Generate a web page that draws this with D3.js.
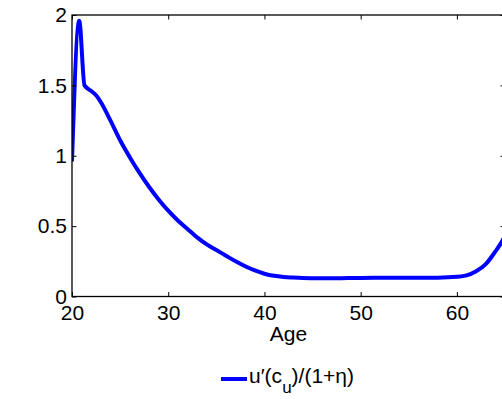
<!DOCTYPE html>
<html>
<head>
<meta charset="utf-8">
<script src="https://cdn.jsdelivr.net/npm/d3@7"></script>
<style>
  body { margin: 0; background: #fff; }
  svg { display: block; font-family: "Liberation Sans", Arial, sans-serif; }
</style>
</head>
<body>
<div id="chart"></div>
<script>
// values
let ages = [20, 20.75, 21.3, 22, 22.5, 23, 24, 25, 26, 27, 28, 29, 30, 31, 32, 33, 34, 35, 36, 37, 38, 39, 40,
  41, 42, 43, 44, 45, 46, 47, 48, 50, 52, 55, 58, 60, 61, 62, 63, 64, 64.5, 65];
let values = [0.96, 1.96, 1.50, 1.46, 1.43, 1.38, 1.25, 1.11, 0.99, 0.88, 0.78, 0.69, 0.61, 0.54, 0.48, 0.42, 0.37, 0.33, 0.29, 0.25, 0.215, 0.185, 0.162,
  0.147, 0.139, 0.135, 0.132, 0.130, 0.129, 0.129, 0.130, 0.132, 0.133, 0.133, 0.134, 0.140, 0.150, 0.180, 0.23, 0.32, 0.37, 0.43];
let xTicks = [20, 30, 40, 50, 60];
let yTicks = [0, 0.5, 1, 1.5, 2];

var W = 502, H = 399;
var m = {left: 72, top: 15, right: 505, bottom: 296.5};
var fs = 21;

let svg = d3.select('#chart').append('svg').attr('width', W).attr('height', H);

let x = d3.scaleLinear().domain([20, 65]).range([m.left, m.right]);
let y = d3.scaleLinear().domain([0, 2]).range([m.bottom, m.top]);

svg.append('clipPath').attr('id', 'clip')
  .append('rect').attr('x', m.left).attr('y', m.top)
  .attr('width', m.right - m.left).attr('height', m.bottom - m.top);

// curve
let line = d3.line().x((d, i) => x(ages[i])).y(d => y(d)).curve(d3.curveMonotoneX);
svg.append('path').datum(values)
  .attr('clip-path', 'url(#clip)')
  .attr('d', line)
  .attr('fill', 'none').attr('stroke', '#0000ff').attr('stroke-width', 4)
  .attr('stroke-linejoin', 'round');

function styleAxis(g) {
  g.select('.domain').remove();
  g.selectAll('.tick line').attr('stroke', '#000').attr('stroke-width', 1);
  g.selectAll('.tick text').attr('fill', '#000').attr('font-size', fs)
    .attr('font-family', '"Liberation Sans", Arial, sans-serif');
}

let fmt = d => d3.format('~g')(d);

svg.append('g').attr('transform', `translate(0,${m.bottom})`)
  .call(d3.axisBottom(x).tickValues(xTicks).tickFormat(fmt).tickSizeInner(-4.5).tickSizeOuter(0).tickPadding(9))
  .call(styleAxis);
svg.append('g').attr('transform', `translate(0,${m.top})`)
  .call(d3.axisTop(x).tickValues(xTicks).tickFormat('').tickSizeInner(-4.5).tickSizeOuter(0))
  .call(styleAxis);
svg.append('g').attr('transform', `translate(${m.left},0)`)
  .call(d3.axisLeft(y).tickValues(yTicks).tickFormat(fmt).tickSizeInner(-4.5).tickSizeOuter(0).tickPadding(5))
  .call(styleAxis);
svg.append('g').attr('transform', `translate(${m.right},0)`)
  .call(d3.axisRight(y).tickValues(yTicks).tickFormat('').tickSizeInner(-4.5).tickSizeOuter(0))
  .call(styleAxis);

// box
svg.append('rect').attr('x', m.left).attr('y', m.top)
  .attr('width', m.right - m.left).attr('height', m.bottom - m.top)
  .attr('fill', 'none').attr('stroke', '#000').attr('stroke-width', 1.3);

// x label
svg.append('text').attr('x', (m.left + m.right) / 2).attr('y', 341)
  .attr('text-anchor', 'middle').attr('font-size', fs).text('Age');

// legend
svg.append('line').attr('x1', 221).attr('x2', 247).attr('y1', 379).attr('y2', 379)
  .attr('stroke', '#0000ff').attr('stroke-width', 4);
let lt = svg.append('text').attr('x', 249).attr('y', 383).attr('font-size', fs);
lt.append('tspan').text('u\u2032(c');
lt.append('tspan').attr('font-size', 17).attr('dy', 10).text('u');
lt.append('tspan').attr('dy', -10).text(')/(1+\u03b7)');
</script>
</body>
</html>
